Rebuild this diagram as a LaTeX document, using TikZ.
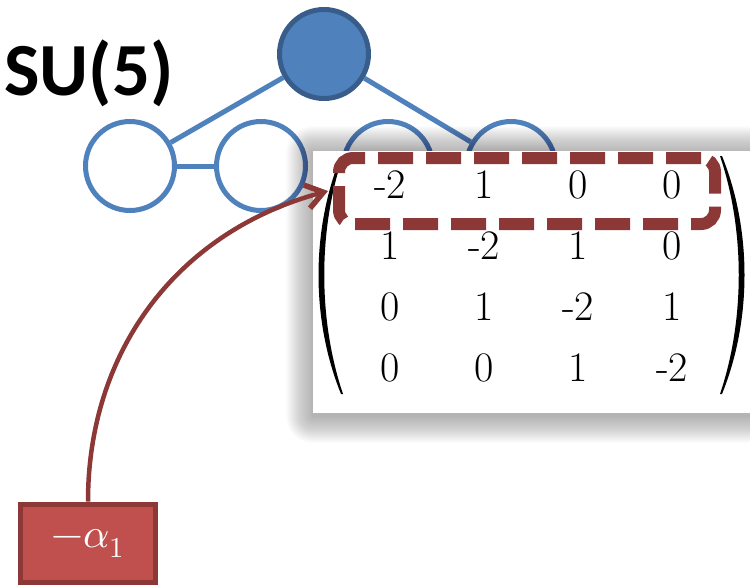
\documentclass[tikz,border=0pt]{standalone}
\usepackage{fontspec}
\usepackage{unicode-math}
\newfontfamily\labelfont{Carlito}
\usetikzlibrary{matrix,arrows.meta}
\definecolor{nodeblue}{RGB}{79,129,189}
\definecolor{nodeblueedge}{RGB}{56,93,138}
\definecolor{rowred}{RGB}{140,56,54}
\definecolor{boxred}{RGB}{192,80,77}
\begin{document}
\begin{tikzpicture}[x=1pt,y=-1pt,
  dynk/.style={circle, draw=nodeblue, line width=5pt, minimum size=89pt, inner sep=0pt, fill=white},
  special/.style={dynk, draw=nodeblueedge, fill=nodeblue},
  bond/.style={draw=nodeblue, line width=5pt},
  cell/.style={minimum width=60pt, minimum height=61pt, inner sep=0pt, anchor=center,
    font=\fontsize{42}{50}\selectfont},
  rowframe/.style={draw=rowred, line width=12pt, dash pattern=on 35pt off 13pt,
    rounded corners=14pt, minimum width=376pt, minimum height=66pt, inner sep=0pt},
  rootbox/.style={draw=rowred, fill=boxred, line width=5pt, minimum width=135pt,
    minimum height=78pt, inner sep=0pt, text=white, font=\fontsize{41}{48}\selectfont},
  pointer/.style={draw=rowred, line width=4.5pt,
    -{Straight Barb[length=17pt,width=24pt,line width=5.5pt]}},
  title/.style={font=\labelfont\bfseries\fontsize{75}{82}\selectfont, inner sep=0pt}
]
\useasboundingbox (0,0) rectangle (750,584);
\clip (0,0) rectangle (750,584);

% Dynkin diagram of SU(5) with the extended node on top
\node[special] (n0) at (324,54) {};
\node[dynk] (n1) at (130,166) {};
\node[dynk] (n2) at (261,166) {};
\node[dynk] (n3) at (388,166) {};
\node[dynk] (n4) at (511,166) {};
\draw[bond] (n0) -- (n1);
\draw[bond] (n0) -- (n4);
\draw[bond] (n1) -- (n2);
\node[title, anchor=base west] (name) at (4,95) {SU(5)};

% soft shadow under the matrix panel
\foreach \i in {1,...,30} {
  \fill[black, opacity=0.012, rounded corners={0.9*\i}]
    ({313-0.9*\i},{151+2-0.9*\i}) rectangle ({760+0.9*\i},{413+3+0.9*\i});
}
\fill[white] (313,151) rectangle (760,413);

% Cartan matrix
\matrix (cartan) [matrix of nodes, nodes={cell}, column sep=34pt, row sep=0pt]
  at (531,276) {
  -2 & 1 & 0 & 0 \\
  1 & -2 & 1 & 0 \\
  0 & 1 & -2 & 1 \\
  0 & 0 & 1 & -2 \\
};
% round brackets of the matrix
\fill[black] (341,156) .. controls (311,230) and (311,320) .. (341,394)
  -- (343,394) .. controls (318,320) and (318,230) .. (343,156) -- cycle;
\fill[black] (722,156) .. controls (752,230) and (752,320) .. (722,394)
  -- (720,394) .. controls (745,320) and (745,230) .. (720,156) -- cycle;

% highlighted first row
\node[rowframe] (row) at (527,191) {};

% simple root label and pointer
\node[rootbox] (alpha) at (88,543) {$-\alpha_1$};
\draw[pointer] (alpha.north) to[out=90, in=195] ([xshift=-5pt]row.west);
\end{tikzpicture}
\end{document}
